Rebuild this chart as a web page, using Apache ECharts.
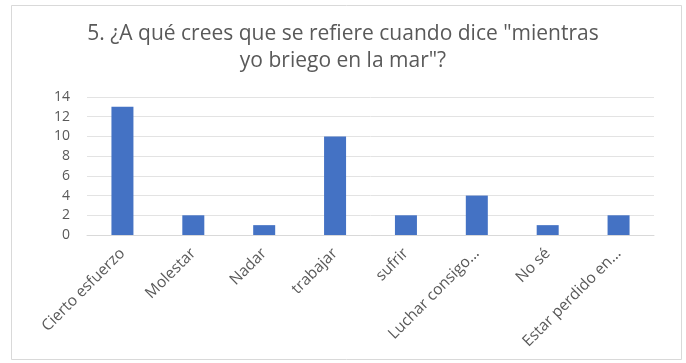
<!DOCTYPE html>
<html><head><meta charset="utf-8">
<script src="https://cdn.jsdelivr.net/npm/echarts@6/dist/echarts.min.js"></script>
<style>html,body{margin:0;padding:0;background:#fff}#c{width:686px;height:363px}</style>
</head><body><div id="c"></div>
<script>
const categories = ["Cierto esfuerzo","Molestar","Nadar","trabajar","sufrir","Luchar consigo...","No sé","Estar perdido en..."];
const values = [13, 2, 1, 10, 2, 4, 1, 2];
const yTicks = [0, 2, 4, 6, 8, 10, 12, 14];
const titleText = '5. ¿A qué crees que se refiere cuando dice "mientras\nyo briego en la mar"?';

const chart = echarts.init(document.getElementById('c'));
chart.setOption({
  backgroundColor: '#fff',
  animation: false,
  graphic: [{type:'rect', shape:{x:11.5,y:5.5,width:670,height:354}, style:{fill:'none', stroke:'#d9d9d9', lineWidth:1}, z:-1}],
  title: {text: titleText, left: 'center', top: 16, textStyle:{fontFamily:'Open Sans', fontSize:21, fontWeight:'normal', color:'#595959', lineHeight:27}},
  grid: {left: 87, right: 32, top: 97, bottom: 128},
  xAxis: {type:'category', data: categories,
    axisLine:{lineStyle:{color:'#d9d9d9'}}, axisTick:{show:false},
    axisLabel:{rotate:45, interval:0, color:'#595959', fontFamily:'Open Sans', fontSize:15.5, margin:16}},
  yAxis: {type:'value', min: yTicks[0], max: yTicks[yTicks.length-1], interval: 2,
    axisLine:{show:false}, axisTick:{show:false},
    splitLine:{lineStyle:{color:'#e3e3e3'}},
    axisLabel:{color:'#595959', fontFamily:'Open Sans', fontSize:14, margin:17}},
  series: [{type:'bar', data: values, barWidth: 22, itemStyle:{color:'#4472C4'}}]
});
</script></body></html>
